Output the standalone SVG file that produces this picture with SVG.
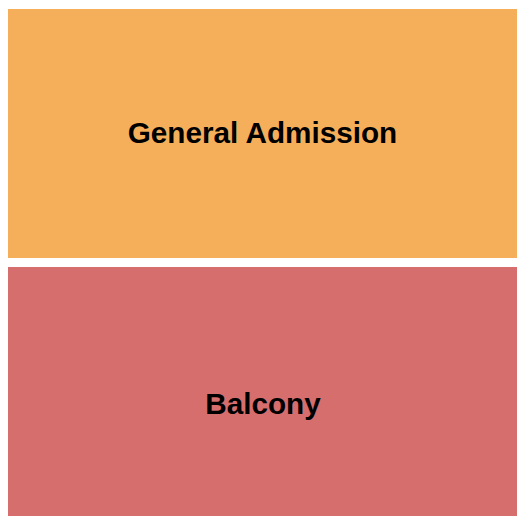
<svg xmlns="http://www.w3.org/2000/svg" width="525" height="525" viewBox="0 0 525 525">
<style>
.lbl{font-family:"Liberation Sans",Arial,sans-serif;font-weight:bold;font-size:29.7px;fill:#000;text-anchor:middle}
</style>
<rect width="525" height="525" fill="#fff"/>
<g id="general-admission">
<rect x="8" y="9" width="509" height="249" fill="#F5AF5A"/>
<text class="lbl" x="262.5" y="143">General Admission</text>
</g>
<g id="balcony">
<rect x="8" y="267" width="509" height="249" fill="#D76E6E"/>
<text class="lbl" x="263" y="413.5">Balcony</text>
</g>
<g id="connectors"/>
</svg>
